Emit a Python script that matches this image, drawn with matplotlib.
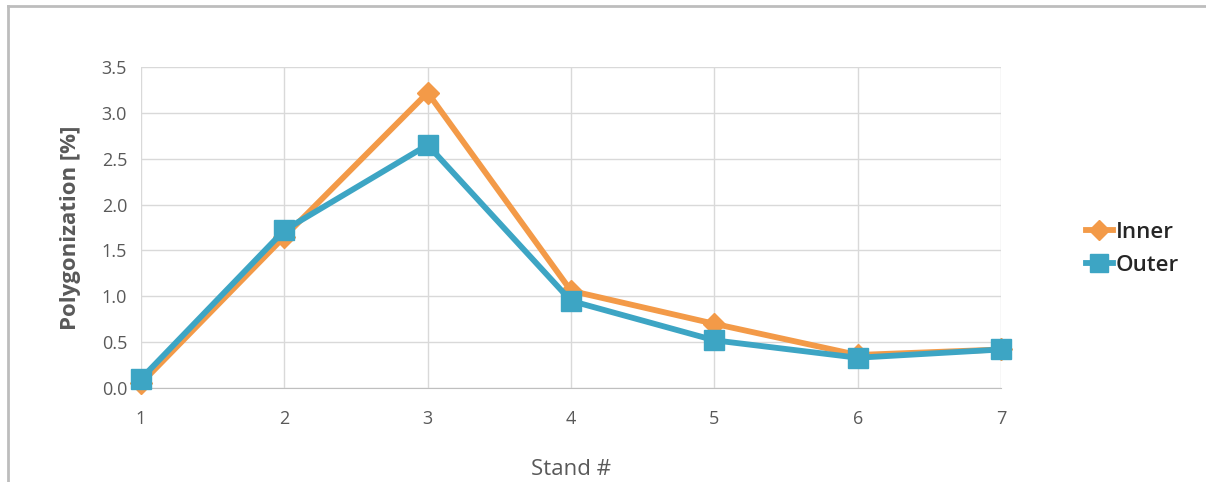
import matplotlib
matplotlib.use("Agg")
import matplotlib.pyplot as plt
from matplotlib.lines import Line2D

stands = [1, 2, 3, 4, 5, 6, 7]
inner = [0.05, 1.65, 3.22, 1.06, 0.70, 0.36, 0.42]
outer = [0.10, 1.72, 2.65, 0.95, 0.52, 0.33, 0.42]
yticks = [0.0, 0.5, 1.0, 1.5, 2.0, 2.5, 3.0, 3.5]

plt.rcParams['font.family'] = ['Open Sans', 'DejaVu Sans']

orange = '#F39A48'
blue = '#3DA5C4'
grey_text = '#595959'

fig = plt.figure(figsize=(12.06, 4.82), dpi=100)
ax = fig.add_axes([141/1206, 1-388/482, (1001-141)/1206, (388-67)/482])

ax.plot(stands, inner, color=orange, lw=4.2, marker='D', ms=11, label='Inner', zorder=3, clip_on=False)
ax.plot(stands, outer, color=blue, lw=4.2, marker='s', ms=15, label='Outer', zorder=4, clip_on=False)

ax.set_xlim(1, 7)
ax.set_ylim(0, 3.5)
ax.set_yticks(yticks)
ax.set_yticklabels([f"{v:.1f}" for v in yticks])
ax.set_xticks(stands)
ax.grid(True, color='#D9D9D9', lw=1)
ax.set_axisbelow(True)
for s in ['top', 'right', 'left']:
    ax.spines[s].set_visible(False)
ax.spines['bottom'].set_color('#BFBFBF')
ax.tick_params(axis='both', length=0, labelsize=13, colors=grey_text)
ax.tick_params(axis='x', pad=16)
ax.tick_params(axis='y', pad=10)

ax.set_ylabel('Polygonization [%]', fontsize=16, fontweight='bold', color=grey_text, labelpad=15)
ax.set_xlabel('Stand #', fontsize=16, color=grey_text, labelpad=22)

handles = [Line2D([], [], color=orange, lw=4.2, marker='D', ms=10),
           Line2D([], [], color=blue, lw=4.2, marker='s', ms=13)]
leg = fig.legend(handles, ['Inner', 'Outer'], loc='center left',
                 bbox_to_anchor=(1066/1206, 1-249/482), frameon=False,
                 handlelength=1.2, handletextpad=0.15, labelspacing=0.55,
                 prop={'size': 16, 'weight': 'semibold'})
for t in leg.get_texts():
    t.set_color('#262626')

# outer frame
fig.add_artist(Line2D([8/1206, 8/1206], [0, 1-6/482], transform=fig.transFigure, color='#BDBDBD', lw=2))
fig.add_artist(Line2D([8/1206, 1], [1-6/482, 1-6/482], transform=fig.transFigure, color='#BDBDBD', lw=2))

fig.savefig('out.png', dpi=100)
